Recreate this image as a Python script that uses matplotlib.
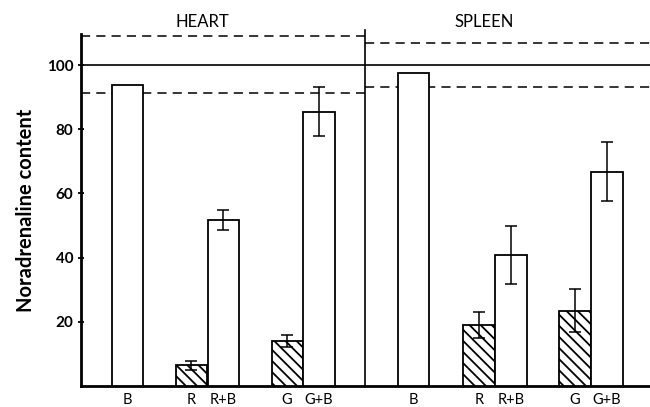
import matplotlib
matplotlib.use("Agg")
import matplotlib.pyplot as plt

# bar positions in bar-width units, heart panel then spleen panel
positions = [1.45, 3.45, 4.45, 6.45, 7.45, 10.4, 12.45, 13.45, 15.45, 16.45]
labels = ["B", "R", "R+B", "G", "G+B", "B", "R", "R+B", "G", "G+B"]
values = [93.7, 6.4, 51.7, 14.0, 85.5, 97.4, 19.0, 40.8, 23.5, 66.8]
errors = [0, 1.4, 3.0, 1.9, 7.6, 0, 4.1, 9.0, 6.8, 9.3]
hatched = [False, True, False, True, False, False, True, False, True, False]

divider = 8.9
heart_band = (91.2, 109.0)
spleen_band = (93.2, 107.0)

plt.rcParams["font.family"] = ["Lato", "DejaVu Sans"]
plt.rcParams["hatch.linewidth"] = 1.3

fig = plt.figure(figsize=(6.5, 4.07), dpi=100)
ax = fig.add_axes([0.1246, 0.0516, 0.8754, 0.865])
ax.set_xlim(0, 17.8)
ax.set_ylim(0, 109.7)

for x, v, e, h in zip(positions, values, errors, hatched):
    ax.bar(x, v, width=0.98, facecolor="white", edgecolor="black", linewidth=1.3,
           hatch="\\\\\\" if h else None, zorder=3)
    if e:
        ax.errorbar(x, v, yerr=e, color="black", lw=1.1, capsize=4, capthick=1.1, zorder=4)

ax.axhline(100, color="black", lw=1.2, zorder=2)
ax.axvline(divider, ymax=1.01, color="black", lw=1.2, clip_on=False, zorder=2)
for yv in heart_band:
    ax.plot([0, divider], [yv, yv], color="black", lw=1.1, dashes=(6, 4), zorder=2)
for yv in spleen_band:
    ax.plot([divider, 17.8], [yv, yv], color="black", lw=1.1, dashes=(6, 4), zorder=2)

ax.text(3.8, 113.5, "HEART", ha="center", va="center", fontsize=12)
ax.text(12.6, 113.5, "SPLEEN", ha="center", va="center", fontsize=12)

ax.set_xticks(positions)
ax.set_xticklabels(labels, fontsize=10.5)
ax.tick_params(axis="x", length=0, pad=5)
ax.set_yticks([20, 40, 60, 80, 100])
ax.tick_params(axis="y", direction="inout", length=5, width=1.3, labelsize=11, pad=3)
for t in ax.get_yticklabels():
    t.set_fontweight("bold")
ax.set_ylabel("Noradrenaline content", fontsize=14.5, fontweight="bold", labelpad=8)

for s in ("top", "right"):
    ax.spines[s].set_visible(False)
ax.spines["left"].set_linewidth(2)
ax.spines["bottom"].set_linewidth(2)

fig.savefig("out.png", dpi=100)
